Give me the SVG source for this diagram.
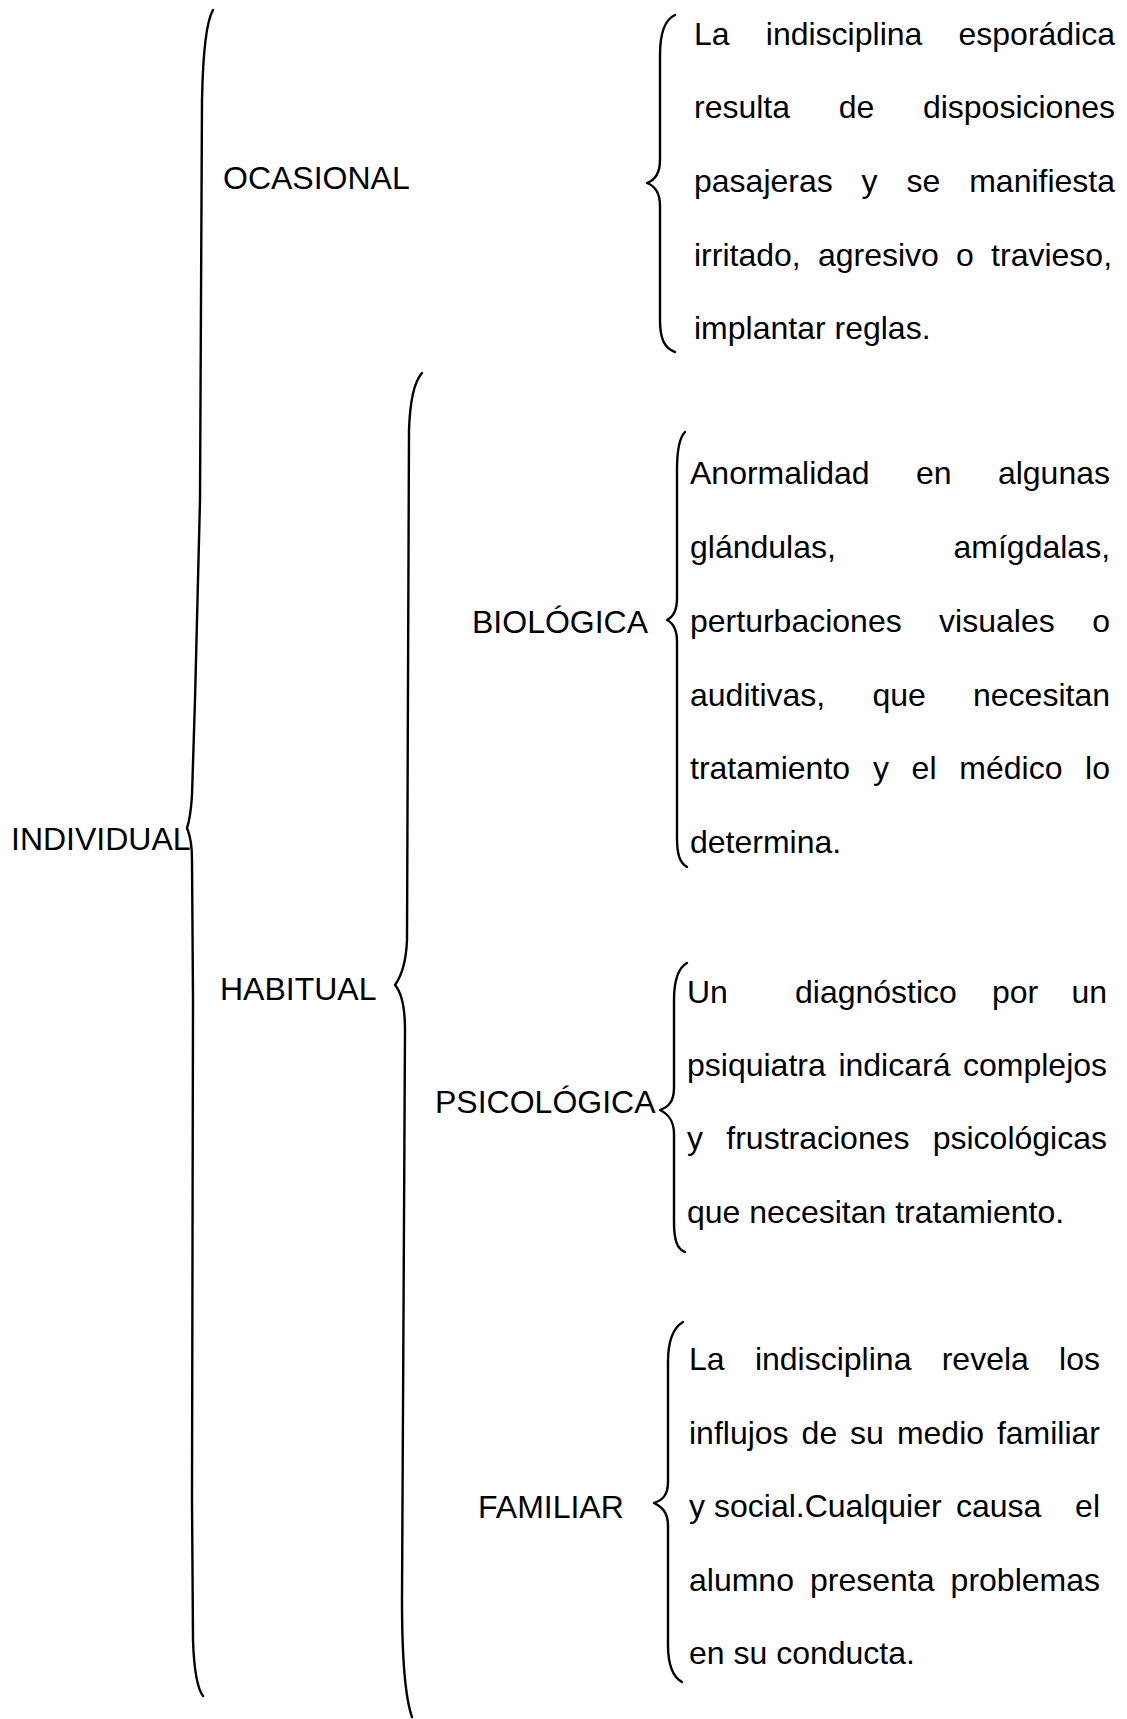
<svg xmlns="http://www.w3.org/2000/svg" width="1127" height="1719" viewBox="0 0 1127 1719">
<style>
text{font-family:"Liberation Sans",Arial,sans-serif;font-size:32px;fill:#000}
.brace{fill:none;stroke:#000;stroke-width:2.4;stroke-linecap:round;stroke-linejoin:round}
</style>
<rect width="1127" height="1719" fill="#fff"/>
<g id="connectors">
<path class="brace" d="M213,10 C206,22 203,50 202,100 L200,500 L195,700 L192,795 C191,812 189,822 187,828 C190,835 192,845 192,860 L193,1000 L192,1500 L193,1640 C194,1670 197,1688 203,1696"/>
<path class="brace" d="M422,373 C414,382 410,400 409,430 L407,940 C406,965 400,978 395,985 C401,992 405,1005 405,1030 L402,1600 C402,1660 406,1700 412,1717"/>
<path class="brace" d="M675,15 C664,20 660,35 660,55 L660,160 C660,174 655,180 647,183 C655,186 660,192 660,206 L660,320 C660,338 664,348 675,352"/>
<path class="brace" d="M685,432 C679,438 677,450 677,470 L677,598 C677,611 673,617 667,620 C673,623 677,629 677,642 L677,838 C677,855 680,863 687,867"/>
<path class="brace" d="M687,963 C678,968 674,980 674,1000 L674,1088 C674,1102 668,1107 660,1110 C668,1114 674,1120 674,1134 L674,1222 C674,1240 677,1249 685,1252"/>
<path class="brace" d="M683,1322 C673,1328 668,1342 668,1362 L668,1482 C668,1496 662,1500 654,1503 C662,1507 668,1512 668,1526 L668,1645 C668,1665 673,1677 682,1682"/>
</g>
<g id="individual"><text x="11" y="850">INDIVIDUAL</text></g>
<g id="ocasional"><text x="223" y="189">OCASIONAL</text></g>
<g id="habitual"><text x="220" y="1000">HABITUAL</text></g>
<g id="biologica"><text x="472" y="633">BIOLÓGICA</text></g>
<g id="psicologica"><text x="435" y="1113">PSICOLÓGICA</text></g>
<g id="familiar"><text x="478" y="1518">FAMILIAR</text></g>
<g id="ocasional-desc">
<text y="45"><tspan x="694">La</tspan><tspan x="765.8">indisciplina</tspan><tspan x="958.5">esporádica</tspan></text>
<text y="118"><tspan x="694">resulta</tspan><tspan x="838.7">de</tspan><tspan x="922.9">disposiciones</tspan></text>
<text y="192"><tspan x="694">pasajeras</tspan><tspan x="861.6">y</tspan><tspan x="906.5">se</tspan><tspan x="969.2">manifiesta</tspan></text>
<text y="266"><tspan x="694">irritado,</tspan><tspan x="817.9">agresivo</tspan><tspan x="956">o</tspan><tspan x="991.1">travieso,</tspan></text>
<text y="339" x="694">implantar reglas.</text>
</g>
<g id="biologica-desc">
<text y="484"><tspan x="690">Anormalidad</tspan><tspan x="916">en</tspan><tspan x="997.9">algunas</tspan></text>
<text y="558"><tspan x="690">glándulas,</tspan><tspan x="953.5">amígdalas,</tspan></text>
<text y="632"><tspan x="690">perturbaciones</tspan><tspan x="939.1">visuales</tspan><tspan x="1092.2">o</tspan></text>
<text y="706"><tspan x="690">auditivas,</tspan><tspan x="872.4">que</tspan><tspan x="973">necesitan</tspan></text>
<text y="779"><tspan x="690">tratamiento</tspan><tspan x="872.9">y</tspan><tspan x="911.6">el</tspan><tspan x="959.3">médico</tspan><tspan x="1085.1">lo</tspan></text>
<text y="853" x="690">determina.</text>
</g>
<g id="psicologica-desc">
<text y="1003"><tspan x="687">Un</tspan><tspan x="795">diagnóstico</tspan><tspan x="992">por</tspan><tspan x="1071.4">un</tspan></text>
<text y="1076"><tspan x="687">psiquiatra</tspan><tspan x="838.4">indicará</tspan><tspan x="963">complejos</tspan></text>
<text y="1149"><tspan x="687">y</tspan><tspan x="726.3">frustraciones</tspan><tspan x="932.7">psicológicas</tspan></text>
<text y="1223" x="687">que necesitan tratamiento.</text>
</g>
<g id="familiar-desc">
<text y="1370"><tspan x="689">La</tspan><tspan x="754.9">indisciplina</tspan><tspan x="941.7">revela</tspan><tspan x="1059.1">los</tspan></text>
<text y="1444"><tspan x="689">influjos</tspan><tspan x="801.6">de</tspan><tspan x="850.1">su</tspan><tspan x="896.9">medio</tspan><tspan x="996.9">familiar</tspan></text>
<text y="1517"><tspan x="689">y</tspan><tspan x="714">social.Cualquier</tspan><tspan x="956">causa</tspan><tspan x="1075.1">el</tspan></text>
<text y="1591"><tspan x="689">alumno</tspan><tspan x="810">presenta</tspan><tspan x="950.6">problemas</tspan></text>
<text y="1664" x="689">en su conducta.</text>
</g>
</svg>
